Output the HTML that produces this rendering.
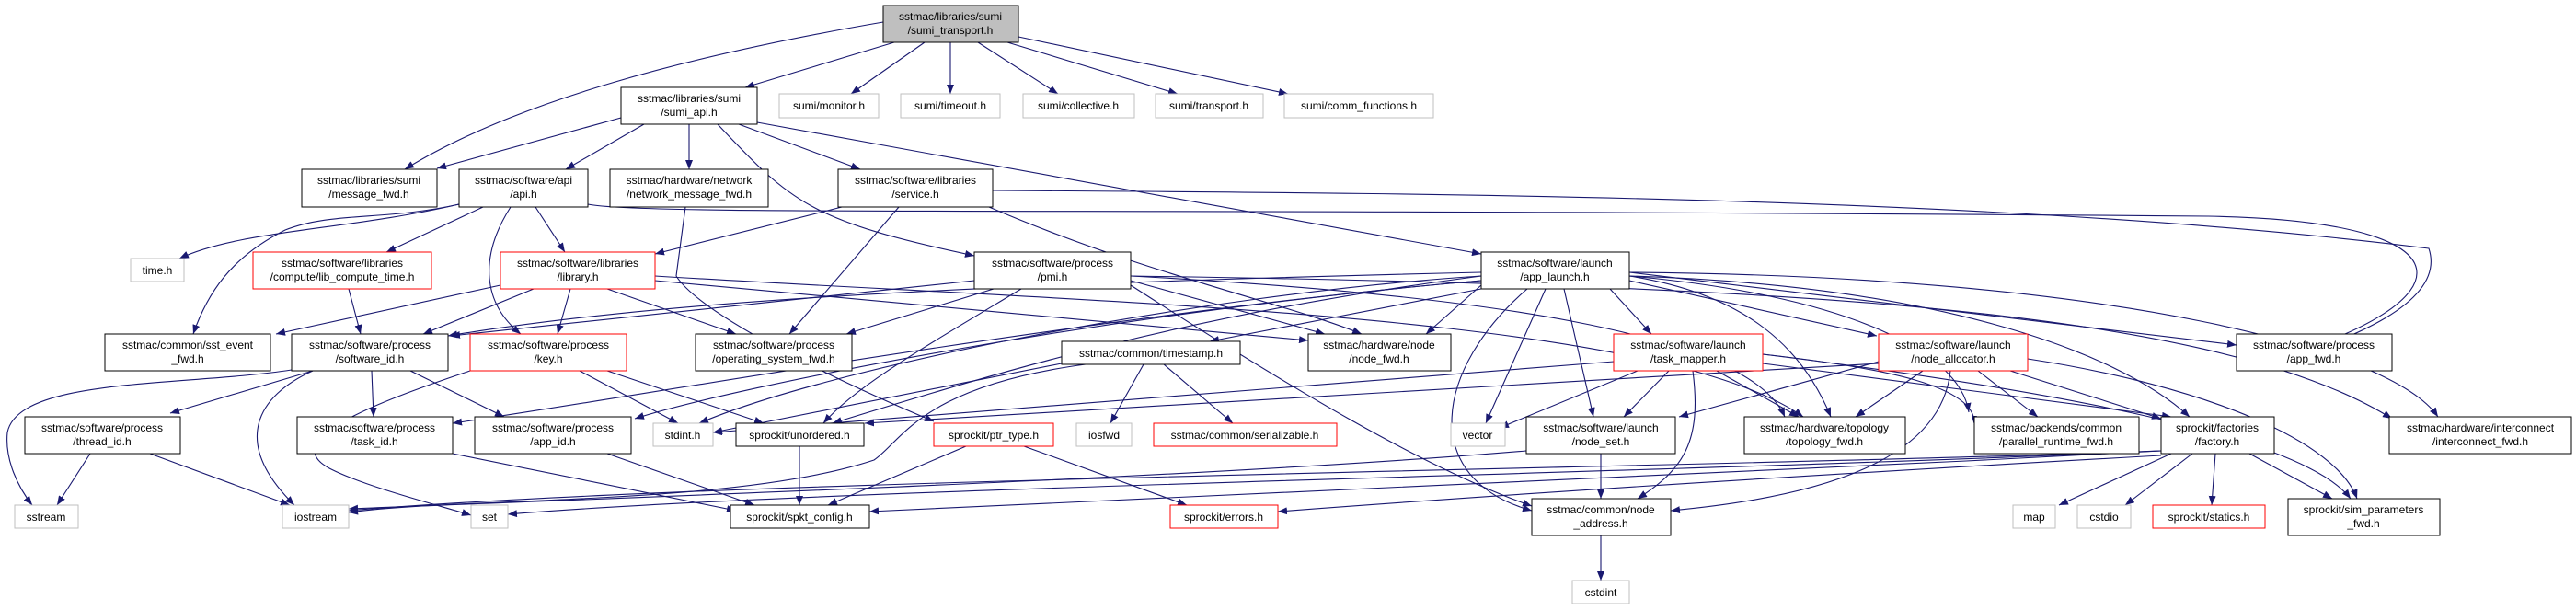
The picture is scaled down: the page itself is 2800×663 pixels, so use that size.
<!DOCTYPE html>
<html><head><meta charset="utf-8"><style>
html,body{margin:0;padding:0;background:#fff;width:2800px;height:663px;overflow:hidden}
svg text{font-family:"Liberation Sans",sans-serif;font-size:12px;fill:#000;text-anchor:middle}
.e{fill:none;stroke:#191970;stroke-width:1.1}
.n{fill:#fff;stroke:#000;stroke-width:1}
.g{fill:#fff;stroke:#bfbfbf;stroke-width:1}
.r{fill:#fff;stroke:#ff0000;stroke-width:1}
</style></head><body>
<svg width="2800" height="663" viewBox="0 0 2800 663" xmlns="http://www.w3.org/2000/svg">
<defs><marker id="a" markerUnits="userSpaceOnUse" markerWidth="11" markerHeight="8" refX="10" refY="4" orient="auto"><path d="M0,0 L10,4 L0,8 z" fill="#191970"/></marker></defs>
<g marker-end="url(#a)">
<path class="e" d="M960,24 C750,60 560,110 440,184"/>
<path class="e" d="M972,46 L810,95"/>
<path class="e" d="M1005,46 L925,102"/>
<path class="e" d="M1033,46 L1033,102"/>
<path class="e" d="M1063,46 L1150,102"/>
<path class="e" d="M1095,46 L1280,102"/>
<path class="e" d="M1107,40 L1400,102"/>
<path class="e" d="M675,128 L475,183"/>
<path class="e" d="M700,135 L615,184"/>
<path class="e" d="M749,135 L749,184"/>
<path class="e" d="M803,135 L935,184"/>
<path class="e" d="M780,135 C860,220 880,240 1059,278"/>
<path class="e" d="M823,133 L1610,276"/>
<path class="e" d="M499,222 C380,250 260,250 195,281"/>
<path class="e" d="M525,225 L420,274"/>
<path class="e" d="M582,225 L614,274"/>
<path class="e" d="M555,225 C520,280 525,330 566,363"/>
<path class="e" d="M499,222 C420,240 360,230 310,250 C250,280 225,320 210,363"/>
<path class="e" d="M639,222 C700,235 1200,225 2400,235 C2700,240 2680,330 2472,390"/>
<path class="e" d="M745,225 L735,300 C760,340 900,410 1015,458"/>
<path class="e" d="M915,225 L712,276"/>
<path class="e" d="M977,225 L858,363"/>
<path class="e" d="M1075,225 C1250,300 1400,330 1480,363"/>
<path class="e" d="M1079,207 C1600,210 2200,215 2640,270 C2660,330 2550,370 2472,395"/>
<path class="e" d="M379,314 L392,363"/>
<path class="e" d="M580,314 L460,363"/>
<path class="e" d="M620,314 L606,363"/>
<path class="e" d="M660,314 L800,363"/>
<path class="e" d="M544,310 L300,363"/>
<path class="e" d="M712,300 C1200,330 1800,340 1960,453"/>
<path class="e" d="M712,305 L1422,370"/>
<path class="e" d="M1059,305 L490,365"/>
<path class="e" d="M1110,314 C1000,380 930,420 895,460"/>
<path class="e" d="M1080,314 L920,363"/>
<path class="e" d="M1229,305 L1440,363"/>
<path class="e" d="M1229,310 C1400,420 1550,510 1665,550"/>
<path class="e" d="M1229,300 C1600,320 1900,360 1940,453"/>
<path class="e" d="M1229,300 C1900,310 2400,330 2600,455"/>
<path class="e" d="M1610,310 L1550,363"/>
<path class="e" d="M1610,314 L1315,371"/>
<path class="e" d="M1750,314 L1795,363"/>
<path class="e" d="M1771,305 L2040,365"/>
<path class="e" d="M1771,296 L2431,375"/>
<path class="e" d="M1700,314 L1732,453"/>
<path class="e" d="M1680,314 L1615,460"/>
<path class="e" d="M1771,300 C1900,320 1960,380 1990,453"/>
<path class="e" d="M1771,300 C2000,320 2130,380 2140,448"/>
<path class="e" d="M1771,300 C2100,310 2300,380 2380,453"/>
<path class="e" d="M1771,296 C2300,300 2600,380 2650,453"/>
<path class="e" d="M1660,314 C1560,400 1540,520 1665,555"/>
<path class="e" d="M1610,300 C1300,340 1100,400 905,460"/>
<path class="e" d="M1610,300 C1300,320 900,400 760,460"/>
<path class="e" d="M1610,296 C1000,310 700,330 487,365"/>
<path class="e" d="M1610,305 C1200,340 800,420 690,455"/>
<path class="e" d="M1610,305 C1200,340 700,430 492,460"/>
<path class="e" d="M317,402 C200,420 20,410 8,470 C5,500 20,530 35,549"/>
<path class="e" d="M340,403 C280,430 250,480 320,549"/>
<path class="e" d="M340,403 L185,449"/>
<path class="e" d="M404,403 L406,453"/>
<path class="e" d="M446,403 L548,453"/>
<path class="e" d="M630,403 L737,460"/>
<path class="e" d="M660,403 L830,460"/>
<path class="e" d="M511,403 C400,440 300,480 360,510 C400,530 480,550 512,560"/>
<path class="e" d="M98,493 L62,549"/>
<path class="e" d="M163,493 L315,549"/>
<path class="e" d="M492,493 L800,555"/>
<path class="e" d="M660,493 L820,549"/>
<path class="e" d="M1243,396 L1207,460"/>
<path class="e" d="M1265,396 L1340,460"/>
<path class="e" d="M1180,396 C1000,420 980,480 950,500 C800,550 500,540 379,557"/>
<path class="e" d="M1154,395 L775,470"/>
<path class="e" d="M869,485 L869,549"/>
<path class="e" d="M1050,485 L900,549"/>
<path class="e" d="M1113,485 L1290,549"/>
<path class="e" d="M1780,403 L1630,465"/>
<path class="e" d="M1814,403 L1765,453"/>
<path class="e" d="M1840,403 C1850,480 1830,510 1780,542"/>
<path class="e" d="M1866,403 L1955,453"/>
<path class="e" d="M1916,395 L2360,453"/>
<path class="e" d="M1754,393 L775,470"/>
<path class="e" d="M1916,385 C2050,400 2150,420 2146,462"/>
<path class="e" d="M2042,393 L1825,453"/>
<path class="e" d="M2090,403 L2017,453"/>
<path class="e" d="M2150,403 L2215,453"/>
<path class="e" d="M2185,403 L2349,455"/>
<path class="e" d="M2204,390 C2400,420 2540,480 2562,542"/>
<path class="e" d="M2120,403 C2110,500 1980,540 1816,555"/>
<path class="e" d="M2042,395 L940,460"/>
<path class="e" d="M1740,493 L1740,542"/>
<path class="e" d="M1659,490 C1300,520 700,540 379,553"/>
<path class="e" d="M1740,582 L1740,631"/>
<path class="e" d="M2360,493 L2238,549"/>
<path class="e" d="M2383,493 L2310,549"/>
<path class="e" d="M2408,493 L2404,549"/>
<path class="e" d="M2445,493 L2535,542"/>
<path class="e" d="M2349,490 C1800,510 800,520 379,555"/>
<path class="e" d="M2349,490 C1800,515 900,530 552,559"/>
<path class="e" d="M2349,490 C1800,520 1200,540 945,556"/>
<path class="e" d="M2349,495 C1900,520 1600,540 1389,556"/>
<path class="e" d="M1916,385 C2200,420 2500,470 2555,542"/>
</g>

<rect x="960" y="6" width="147" height="40" fill="#bfbfbf" stroke="#000"/>
<text x="1033" y="22">sstmac/libraries/sumi</text><text x="1033" y="37">/sumi_transport.h</text>

<rect class="n" x="675" y="95" width="148" height="40"/><text x="749" y="111">sstmac/libraries/sumi</text><text x="749" y="126">/sumi_api.h</text>
<rect class="g" x="847" y="102" width="108" height="26"/><text x="901" y="119">sumi/monitor.h</text>
<rect class="g" x="979" y="102" width="108" height="26"/><text x="1033" y="119">sumi/timeout.h</text>
<rect class="g" x="1112" y="102" width="121" height="26"/><text x="1172" y="119">sumi/collective.h</text>
<rect class="g" x="1256" y="102" width="117" height="26"/><text x="1314" y="119">sumi/transport.h</text>
<rect class="g" x="1396" y="102" width="162" height="26"/><text x="1477" y="119">sumi/comm_functions.h</text>

<rect class="n" x="328" y="184" width="147" height="41"/><text x="401" y="200">sstmac/libraries/sumi</text><text x="401" y="215">/message_fwd.h</text>
<rect class="n" x="499" y="184" width="140" height="41"/><text x="569" y="200">sstmac/software/api</text><text x="569" y="215">/api.h</text>
<rect class="n" x="663" y="184" width="172" height="41"/><text x="749" y="200">sstmac/hardware/network</text><text x="749" y="215">/network_message_fwd.h</text>
<rect class="n" x="911" y="184" width="168" height="41"/><text x="995" y="200">sstmac/software/libraries</text><text x="995" y="215">/service.h</text>

<rect class="g" x="142" y="281" width="58" height="25"/><text x="171" y="298">time.h</text>
<rect class="r" x="275" y="274" width="194" height="40"/><text x="372" y="290">sstmac/software/libraries</text><text x="372" y="305">/compute/lib_compute_time.h</text>
<rect class="r" x="544" y="274" width="168" height="40"/><text x="628" y="290">sstmac/software/libraries</text><text x="628" y="305">/library.h</text>
<rect class="n" x="1059" y="274" width="170" height="40"/><text x="1144" y="290">sstmac/software/process</text><text x="1144" y="305">/pmi.h</text>
<rect class="n" x="1610" y="274" width="161" height="40"/><text x="1690" y="290">sstmac/software/launch</text><text x="1690" y="305">/app_launch.h</text>

<rect class="n" x="114" y="363" width="180" height="40"/><text x="204" y="379">sstmac/common/sst_event</text><text x="204" y="394">_fwd.h</text>
<rect class="n" x="317" y="363" width="170" height="40"/><text x="402" y="379">sstmac/software/process</text><text x="402" y="394">/software_id.h</text>
<rect class="r" x="511" y="363" width="170" height="40"/><text x="596" y="379">sstmac/software/process</text><text x="596" y="394">/key.h</text>
<rect class="n" x="756" y="363" width="170" height="40"/><text x="841" y="379">sstmac/software/process</text><text x="841" y="394">/operating_system_fwd.h</text>
<rect class="n" x="1154" y="371" width="194" height="25"/><text x="1251" y="388">sstmac/common/timestamp.h</text>
<rect class="n" x="1422" y="363" width="155" height="40"/><text x="1499" y="379">sstmac/hardware/node</text><text x="1499" y="394">/node_fwd.h</text>
<rect class="r" x="1754" y="363" width="162" height="40"/><text x="1835" y="379">sstmac/software/launch</text><text x="1835" y="394">/task_mapper.h</text>
<rect class="r" x="2042" y="363" width="162" height="40"/><text x="2123" y="379">sstmac/software/launch</text><text x="2123" y="394">/node_allocator.h</text>
<rect class="n" x="2431" y="363" width="169" height="40"/><text x="2515" y="379">sstmac/software/process</text><text x="2515" y="394">/app_fwd.h</text>

<rect class="n" x="27" y="453" width="169" height="40"/><text x="111" y="469">sstmac/software/process</text><text x="111" y="484">/thread_id.h</text>
<rect class="n" x="323" y="453" width="169" height="40"/><text x="407" y="469">sstmac/software/process</text><text x="407" y="484">/task_id.h</text>
<rect class="n" x="516" y="453" width="170" height="40"/><text x="601" y="469">sstmac/software/process</text><text x="601" y="484">/app_id.h</text>
<rect class="g" x="710" y="460" width="65" height="25"/><text x="742" y="477">stdint.h</text>
<rect class="n" x="800" y="460" width="139" height="25"/><text x="869" y="477">sprockit/unordered.h</text>
<rect class="r" x="1015" y="460" width="130" height="25"/><text x="1080" y="477">sprockit/ptr_type.h</text>
<rect class="g" x="1170" y="460" width="60" height="25"/><text x="1200" y="477">iosfwd</text>
<rect class="r" x="1254" y="460" width="199" height="25"/><text x="1353" y="477">sstmac/common/serializable.h</text>
<rect class="g" x="1577" y="460" width="59" height="25"/><text x="1606" y="477">vector</text>
<rect class="n" x="1659" y="453" width="162" height="40"/><text x="1740" y="469">sstmac/software/launch</text><text x="1740" y="484">/node_set.h</text>
<rect class="n" x="1896" y="453" width="175" height="40"/><text x="1983" y="469">sstmac/hardware/topology</text><text x="1983" y="484">/topology_fwd.h</text>
<rect class="n" x="2146" y="453" width="179" height="40"/><text x="2235" y="469">sstmac/backends/common</text><text x="2235" y="484">/parallel_runtime_fwd.h</text>
<rect class="n" x="2349" y="453" width="123" height="40"/><text x="2410" y="469">sprockit/factories</text><text x="2410" y="484">/factory.h</text>
<rect class="n" x="2597" y="453" width="198" height="40"/><text x="2696" y="469">sstmac/hardware/interconnect</text><text x="2696" y="484">/interconnect_fwd.h</text>

<rect class="g" x="16" y="549" width="69" height="25"/><text x="50" y="566">sstream</text>
<rect class="g" x="307" y="549" width="72" height="25"/><text x="343" y="566">iostream</text>
<rect class="g" x="512" y="549" width="40" height="25"/><text x="532" y="566">set</text>
<rect class="n" x="794" y="549" width="151" height="25"/><text x="869" y="566">sprockit/spkt_config.h</text>
<rect class="r" x="1272" y="549" width="117" height="25"/><text x="1330" y="566">sprockit/errors.h</text>
<rect class="n" x="1665" y="542" width="151" height="40"/><text x="1740" y="558">sstmac/common/node</text><text x="1740" y="573">_address.h</text>
<rect class="g" x="2188" y="549" width="46" height="25"/><text x="2211" y="566">map</text>
<rect class="g" x="2258" y="549" width="58" height="25"/><text x="2287" y="566">cstdio</text>
<rect class="r" x="2340" y="549" width="122" height="25"/><text x="2401" y="566">sprockit/statics.h</text>
<rect class="n" x="2487" y="542" width="165" height="40"/><text x="2569" y="558">sprockit/sim_parameters</text><text x="2569" y="573">_fwd.h</text>

<rect class="g" x="1709" y="631" width="62" height="25"/><text x="1740" y="648">cstdint</text>
</svg>
</body></html>
